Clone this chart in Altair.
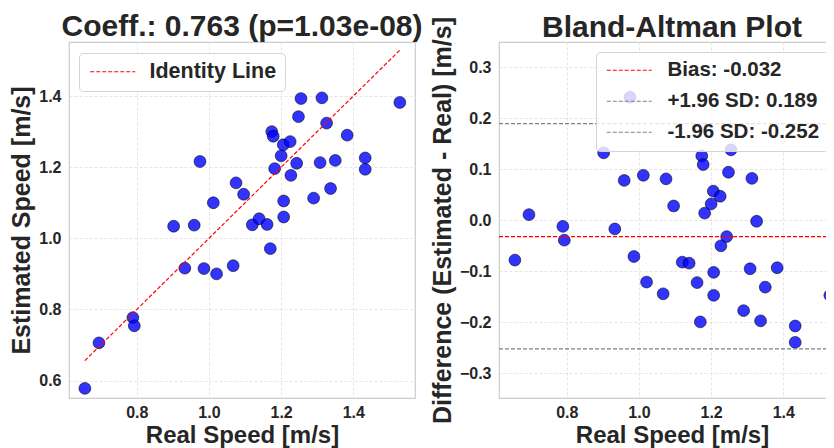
import altair as alt
import pandas as pd

# ---- data ----
real_speed = [0.656, 0.695, 0.789, 0.793, 0.902, 0.933, 0.959, 0.975, 0.986, 1.012,
              1.021, 1.067, 1.075, 1.096, 1.120, 1.139, 1.161, 1.170, 1.174, 1.178,
              1.182, 1.200, 1.206, 1.207, 1.207, 1.225, 1.227, 1.243, 1.248, 1.255,
              1.290, 1.308, 1.313, 1.326, 1.337, 1.350, 1.383, 1.433, 1.433, 1.529]
est_speed = [0.578, 0.706, 0.777, 0.754, 1.034, 0.916, 1.037, 1.216, 0.915, 1.100,
             0.900, 0.923, 1.156, 1.124, 1.038, 1.055, 1.039, 0.971, 1.300, 1.287,
             1.196, 1.232, 1.263, 1.105, 1.060, 1.272, 1.177, 1.211, 1.342, 1.393,
             1.113, 1.213, 1.395, 1.324, 1.140, 1.219, 1.290, 1.226, 1.194, 1.382]

stat_labels = ["Bias: -0.032", "+1.96 SD: 0.189", "-1.96 SD: -0.252"]
stat_values = [-0.032, 0.189, -0.252]
stat_colors = ["red", "gray", "gray"]

identity_label = ["Identity Line"]
left_title = "Coeff.: 0.763 (p=1.03e-08)"
right_title = "Bland-Altman Plot"

x_ticks = [0.8, 1.0, 1.2, 1.4]
y_ticks_left = [0.6, 0.8, 1.0, 1.2, 1.4]
y_ticks_right = [-0.3, -0.2, -0.1, 0.0, 0.1, 0.2, 0.3]

x_domain = [0.612, 1.571]
y_domain_left = [0.551, 1.552]
y_domain_right = [-0.348, 0.349]

FONT = "Liberation Sans"
TEXT = "#262626"

df = pd.DataFrame({"real": real_speed, "est": est_speed})
df["diff"] = df["est"] - df["real"]

line_df = pd.DataFrame({"v": [min(real_speed), max(real_speed)],
                        "label": identity_label * 2})
rule_df = pd.DataFrame({"y": stat_values, "label": stat_labels})

W, H = 346, 356

# long dashed legend sample: a path drawn 6 units wide on a 15px nominal symbol
LEG_PATH = "M-1,0H5"


def legend(x, y, font_size, label_offset):
    return alt.Legend(
        orient="none", legendX=x, legendY=y, title=None,
        symbolType=LEG_PATH, symbolSize=225, symbolStrokeWidth=1.2,
        symbolFillColor="transparent",
        symbolDash=[4, 2], labelFont=FONT, labelFontSize=font_size,
        labelFontWeight="bold", labelColor=TEXT, labelOffset=label_offset,
        padding=8, rowPadding=10, fillColor="rgba(255,255,255,0.8)",
        strokeColor="#d4d4d4", cornerRadius=4,
    )


def xenc():
    return alt.X("real:Q", scale=alt.Scale(domain=x_domain, nice=False, zero=False),
                 axis=alt.Axis(values=x_ticks, format=".1f", title="Real Speed [m/s]",
                               labelPadding=6.5, titlePadding=3, titleFontSize=24))


def title(text, dy):
    return alt.TitleParams(text, fontSize=30, font=FONT, fontWeight="bold",
                           color=TEXT, offset=2, dy=dy, anchor="middle", frame="group")


point_style = dict(size=140, color="#0000ff", fillOpacity=0.8, stroke="black",
                   strokeWidth=0.8, strokeOpacity=0.7)

# ---- left: scatter + identity line ----
left_pts = alt.Chart(df).mark_circle(**point_style).encode(
    x=xenc(),
    y=alt.Y("est:Q", scale=alt.Scale(domain=y_domain_left, nice=False, zero=False),
            axis=alt.Axis(values=y_ticks_left, format=".1f", title="Estimated Speed [m/s]")),
)
left_line = alt.Chart(line_df).mark_line(strokeDash=[4, 2], strokeWidth=1.2).encode(
    x=alt.X("v:Q"),
    y=alt.Y("v:Q"),
    color=alt.Color("label:N", scale=alt.Scale(domain=identity_label, range=["red"]),
                    legend=legend(10, 11, 21.5, 41)),
)
left = alt.layer(left_pts, left_line).properties(
    width=W, height=H, title=title(left_title, 2),
)

# ---- right: Bland-Altman ----
right_pts = alt.Chart(df).mark_circle(**point_style).encode(
    x=xenc(),
    y=alt.Y("diff:Q", scale=alt.Scale(domain=y_domain_right, nice=False, zero=False),
            axis=alt.Axis(values=y_ticks_right, format=".1f",
                          title="Difference (Estimated - Real) [m/s]")),
)
right_rules = alt.Chart(rule_df).mark_rule(strokeDash=[4, 2], strokeWidth=1.2).encode(
    y=alt.Y("y:Q"),
    color=alt.Color("label:N", scale=alt.Scale(domain=stat_labels, range=stat_colors),
                    legend=legend(97, 10, 20.5, 43)),
)
right = alt.layer(right_pts, right_rules).properties(
    width=W, height=H, title=title(right_title, 29),
)

chart = alt.hconcat(left, right, spacing=84, bounds="flush").resolve_scale(
    color="independent"
).properties(
    autosize=alt.AutoSizeParams(type="none"),
    padding={"left": 61, "top": 34, "right": 757, "bottom": 406},
).configure_view(
    stroke="#cccccc", strokeWidth=1.2
).configure_axis(
    labelFont=FONT, labelFontSize=16, labelFontWeight="bold", labelColor=TEXT,
    titleFont=FONT, titleFontSize=25, titleFontWeight="bold", titleColor=TEXT,
    grid=True, gridColor="#dedede", gridDash=[3, 2], gridWidth=0.8,
    ticks=False, tickSize=0, domain=False, labelPadding=8, titlePadding=4,
)

chart.save("out.html", embed_options={"renderer": "svg", "actions": False})
